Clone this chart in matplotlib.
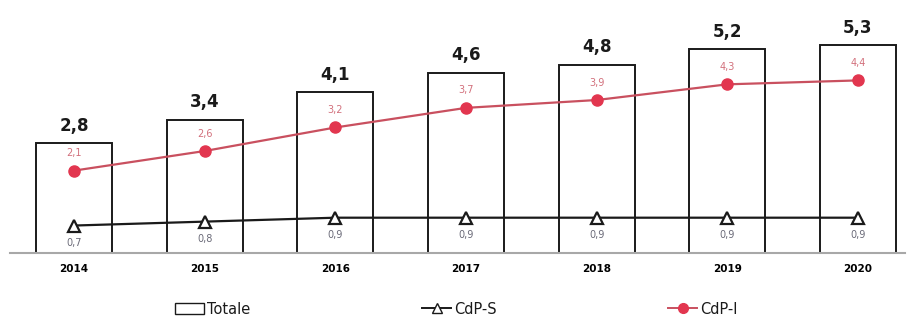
import matplotlib.pyplot as plt
import numpy as np
from matplotlib.lines import Line2D
from matplotlib.patches import Patch

plt.rcParams["font.family"] = ["DejaVu Sans"]

years = ["2014", "2015", "2016", "2017", "2018", "2019", "2020"]
totale = [2.8, 3.4, 4.1, 4.6, 4.8, 5.2, 5.3]
cdp_s = [0.7, 0.8, 0.9, 0.9, 0.9, 0.9, 0.9]
cdp_i = [2.1, 2.6, 3.2, 3.7, 3.9, 4.3, 4.4]


def virgola(v):
    return f"{v:.1f}".replace(".", ",")


x = np.arange(len(years))

fig = plt.figure(figsize=(9.13, 3.2), dpi=100)
ax = fig.add_axes([10 / 913, 67 / 320, 895 / 913, 253 / 320])

ax.bar(x, totale, width=0.58, color="white", edgecolor="#1a1a1a", linewidth=1.4, zorder=1)
ax.plot(x, cdp_s, color="#1a1a1a", lw=1.6, marker="^", markersize=8,
        markerfacecolor="white", markeredgecolor="#1a1a1a", markeredgewidth=1.6, zorder=3)
ax.plot(x, cdp_i, color="#c9505f", lw=1.6, marker="o", markersize=8,
        markerfacecolor="#e2364f", markeredgecolor="#e2364f", zorder=3)

for xi, t, s, i in zip(x, totale, cdp_s, cdp_i):
    ax.annotate(virgola(t), (xi, t), xytext=(0, 6), textcoords="offset points",
                ha="center", va="bottom", fontsize=12, fontweight="bold", color="#1a1a1a")
    ax.annotate(virgola(i), (xi, i), xytext=(0, 9), textcoords="offset points",
                ha="center", va="bottom", fontsize=7, color="#d2707c")
    ax.annotate(virgola(s), (xi, s), xytext=(0, -9), textcoords="offset points",
                ha="center", va="top", fontsize=7, color="#6a6a78")

ax.set_xlim(-0.49, 6.36)
ax.set_ylim(0, 6.45)
ax.set_yticks([])
ax.set_xticks(x, years)
ax.tick_params(axis="x", length=0, pad=8, labelsize=7.5)
for lbl in ax.get_xticklabels():
    lbl.set_fontweight("bold")
for side in ["top", "right", "left"]:
    ax.spines[side].set_visible(False)
ax.spines["bottom"].set_color("#a8a8a8")
ax.spines["bottom"].set_linewidth(1.5)

# legend entries placed one by one, uneven spacing along the bottom
voci = [
    (Patch(facecolor="white", edgecolor="#1a1a1a", linewidth=1.0), "Totale", 175),
    (Line2D([], [], color="#1a1a1a", lw=1.4, marker="^", markersize=7,
            markerfacecolor="white", markeredgecolor="#1a1a1a"), "CdP-S", 422),
    (Line2D([], [], color="#c9505f", lw=1.4, marker="o", markersize=7,
            markerfacecolor="#e2364f", markeredgecolor="#e2364f"), "CdP-I", 668),
]
for h, lab, px in voci:
    leg = fig.legend([h], [lab], loc="center left", bbox_to_anchor=(px / 913, 11 / 320),
                     frameon=False, fontsize=10.5, borderpad=0, borderaxespad=0,
                     handlelength=2.0, handletextpad=0.2)
    for t in leg.get_texts():
        t.set_color("#1a1a1a")

fig.savefig("out.png", dpi=100)
